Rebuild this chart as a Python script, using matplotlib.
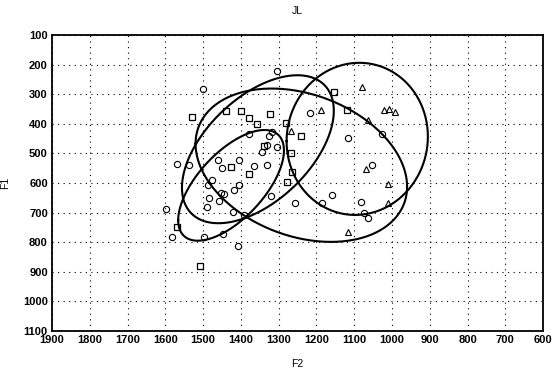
import numpy as np
import matplotlib
matplotlib.use('Agg')
import matplotlib.pyplot as plt

plt.rcParams['font.family'] = ['Liberation Sans', 'DejaVu Sans']

# точки: кружки (F2, F1)
circ_f2 = [1304, 1500, 1569, 1537, 1460, 1450, 1405, 1365, 1331, 1378, 1318, 1325,
           1331, 1304, 1344, 1217, 1476, 1487, 1405, 1418, 1453, 1445, 1484, 1458,
           1490, 1598, 1421, 1392, 1582, 1498, 1447, 1408, 1320, 1257, 1185, 1159,
           1082, 1074, 1063, 1116, 1026, 1053]
circ_f1 = [222, 282, 536, 539, 522, 549, 522, 543, 539, 434, 428, 441,
           472, 478, 495, 363, 590, 607, 607, 624, 634, 637, 651, 661,
           681, 688, 698, 708, 782, 782, 772, 813, 644, 668, 668, 640,
           664, 701, 718, 448, 434, 539]

# квадраты
sq_f2 = [1529, 1439, 1400, 1378, 1357, 1323, 1280, 1339, 1426, 1378, 1278, 1265,
         1267, 1241, 1153, 1119, 1569, 1508]
sq_f1 = [377, 357, 357, 380, 401, 367, 397, 475, 546, 570, 597, 563,
         499, 441, 293, 353, 749, 880]

# треугольники
tri_f2 = [1079, 1188, 1021, 1008, 992, 1063, 1267, 1069, 1010, 1010, 1116]
tri_f1 = [276, 353, 353, 350, 360, 387, 424, 553, 603, 668, 765]

# эллипсы: центр, полуоси по F2 и F1, корреляция
ell_cx = [1426, 1355, 1240, 1092]
ell_cy = [608, 486, 540, 451]
ell_sx = [140, 201, 280, 187]
ell_sy = [187, 250, 259, 257]
ell_rho = [0.63, 0.52, -0.28, 0.03]

fig = plt.figure(figsize=(5.57, 3.76), dpi=100)
ax = fig.add_axes([0.0934, 0.1197, 0.8816, 0.7873])

ax.plot(circ_f2, circ_f1, 'o', mfc='none', mec='black', ms=4.5, mew=0.8)
ax.plot(sq_f2, sq_f1, 's', mfc='none', mec='black', ms=4.5, mew=0.9)
ax.plot(tri_f2, tri_f1, '^', mfc='none', mec='black', ms=4.5, mew=0.8)

t = np.linspace(0, 2 * np.pi, 300)
for cx, cy, sx, sy, r in zip(ell_cx, ell_cy, ell_sx, ell_sy, ell_rho):
    x = cx + sx * np.cos(t)
    y = cy + sy * (r * np.cos(t) + np.sqrt(1 - r ** 2) * np.sin(t))
    ax.plot(x, y, color='black', lw=1.5)

ax.set_xlim(1900, 600)
ax.set_ylim(1100, 100)
ax.set_xticks(np.arange(1900, 599, -100))
ax.set_yticks(np.arange(100, 1101, 100))
ax.grid(True, color='black', linestyle=(0, (1, 4)), linewidth=0.8)
ax.tick_params(length=0, labelsize=8, pad=3)
for lab in ax.get_xticklabels() + ax.get_yticklabels():
    lab.set_fontweight('bold')
for s in ax.spines.values():
    s.set_linewidth(1.3)

ax.set_title('JL', fontsize=7.5, pad=15)
ax.set_xlabel('F2', fontsize=7.5, labelpad=10)
ax.set_ylabel('F1', fontsize=7.5, labelpad=9)

fig.savefig('out.png', dpi=100)
